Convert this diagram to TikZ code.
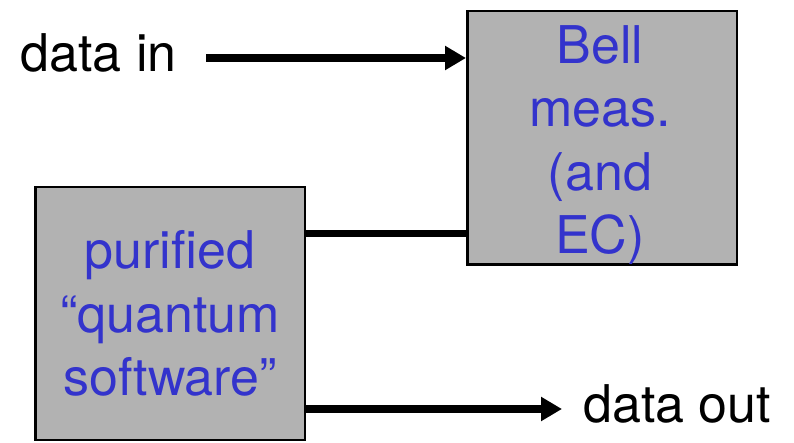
\documentclass[tikz,border=0pt]{standalone}
\usepackage{fontspec}
\setmainfont{TeX Gyre Heros}
\usetikzlibrary{arrows.meta,calc,positioning}
\definecolor{boxgray}{HTML}{B2B2B2}
\definecolor{txtblue}{HTML}{3333CC}
\tikzset{
	blockbox/.style={draw,line width=2.5pt,fill=boxgray,minimum width=269.5pt,minimum height=252.5pt,anchor=center},
	blocktext/.style={text=txtblue,align=center,inner sep=0pt,font=\fontsize{52}{63.5}\selectfont},
	plaintext/.style={inner sep=0pt,font=\fontsize{52}{63.5}\selectfont},
	wire/.style={line width=7.5pt},
	wirearrow/.style={wire,-{Triangle[length=21pt,width=23pt]}},
}
\begin{document}
\begin{tikzpicture}[x=1pt,y=-1pt]
\useasboundingbox (0,0) rectangle (794,443);
\node (bell) at (602,138) [blockbox,minimum height=253.5pt] {};
\node (soft) at (170,313.5) [blockbox] {};
\node (belltxt) at (600,25) [blocktext,anchor=north] {Bell\\meas.\\(and\\EC)};
\node (softtxt) at (soft.center) [blocktext] {purified\\“quantum\\software”};
\node (datain) at (20.5,72) [plaintext,anchor=base west] {data in};
\node (dataout) at (583,422) [plaintext,anchor=base west] {data out};

\coordinate (inend) at ($(bell.north west)+(0,48)$);
\coordinate (midend) at ($(bell.south west)+(0,-32.5)$);
\coordinate (outstart) at ($(soft.south east)+(0,-32)$);

\draw[wirearrow,shorten <=29pt] (datain.east |- inend) -- (inend);
\draw[wire] (soft.east |- midend) -- (midend);
\draw[wirearrow,shorten >=21pt] (outstart) -- (dataout.west |- outstart);
\end{tikzpicture}
\end{document}
